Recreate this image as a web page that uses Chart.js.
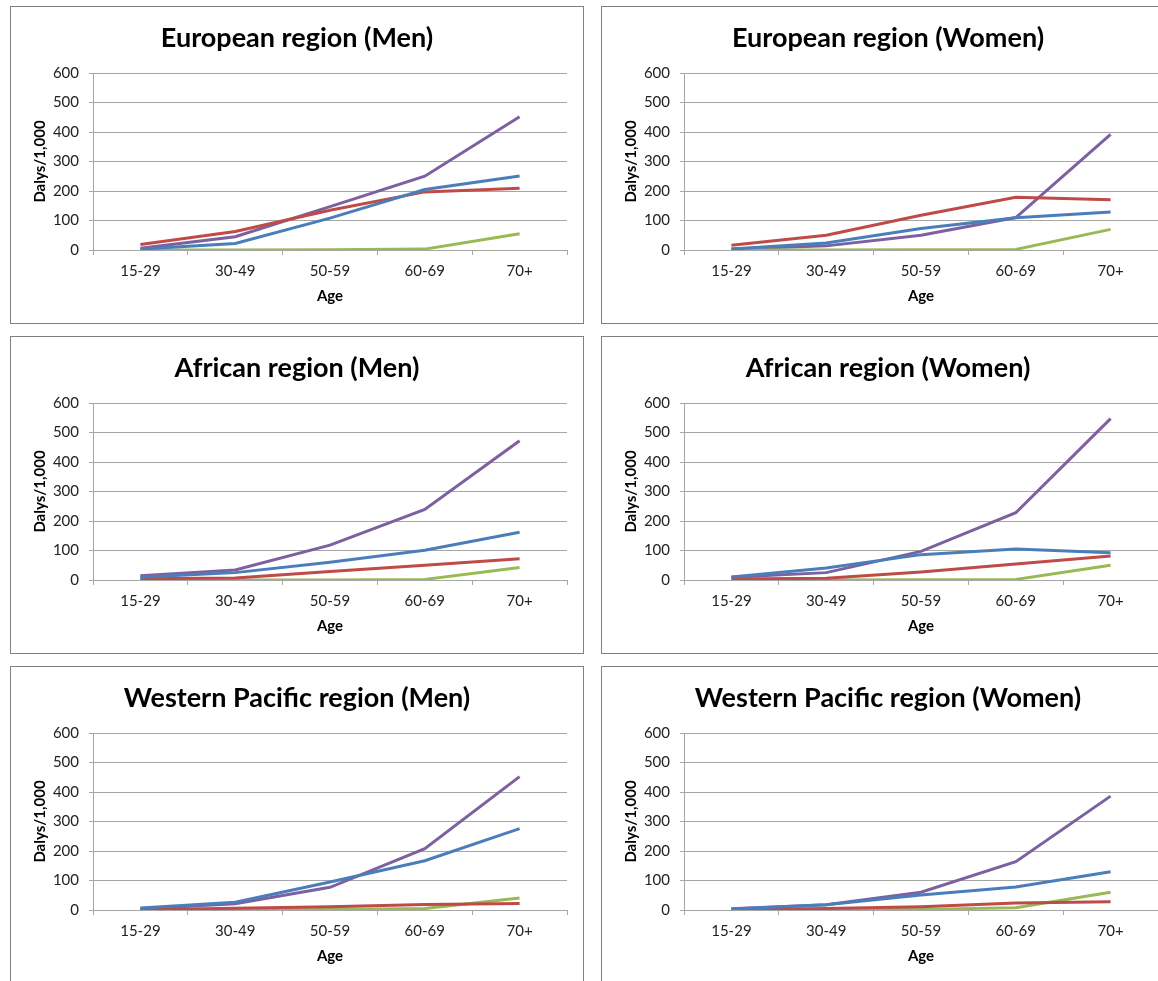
<!DOCTYPE html>
<html>
<head>
<meta charset="utf-8">
<script src="https://cdn.jsdelivr.net/npm/chart.js@4.4.1/dist/chart.umd.min.js"></script>
<style>
  html, body { margin: 0; padding: 0; background: #fff; width: 1158px; height: 981px; overflow: hidden; }
  .panel { position: absolute; width: 572px; height: 316px; border: 1px solid #808080; background: #fff; }
  .panel canvas { display: block; }
</style>
</head>
<body>
<div class="panel" style="left:10px; top:6px"><canvas id="c0" width="572" height="316"></canvas></div>
<div class="panel" style="left:601px; top:6px"><canvas id="c1" width="572" height="316"></canvas></div>
<div class="panel" style="left:10px; top:336px"><canvas id="c2" width="572" height="316"></canvas></div>
<div class="panel" style="left:601px; top:336px"><canvas id="c3" width="572" height="316"></canvas></div>
<div class="panel" style="left:10px; top:666px"><canvas id="c4" width="572" height="316"></canvas></div>
<div class="panel" style="left:601px; top:666px"><canvas id="c5" width="572" height="316"></canvas></div>
<script>
const ageGroups = ['15-29', '30-49', '50-59', '60-69', '70+'];
const yTicks = [0, 100, 200, 300, 400, 500, 600];

// values per panel, series order: blue, red, green, purple
const euMenBlue = [3, 22, 108, 205, 251];
const euMenRed = [19, 63, 135, 197, 209];
const euMenGreen = [0, 0, 1, 3, 55];
const euMenPurple = [6, 45, 147, 250, 452];

const euWomenBlue = [3, 24, 73, 109, 129];
const euWomenRed = [16, 50, 118, 179, 170];
const euWomenGreen = [0, 0, 1, 2, 70];
const euWomenPurple = [3, 14, 50, 110, 392];

const afMenBlue = [9, 25, 60, 101, 162];
const afMenRed = [4, 7, 29, 50, 72];
const afMenGreen = [0, 0, 0, 2, 42];
const afMenPurple = [14, 34, 118, 239, 472];

const afWomenBlue = [10, 41, 86, 105, 92];
const afWomenRed = [3, 6, 27, 54, 81];
const afWomenGreen = [0, 0, 1, 2, 50];
const afWomenPurple = [9, 25, 97, 228, 547];

const wpMenBlue = [7, 26, 95, 167, 276];
const wpMenRed = [1, 6, 11, 19, 22];
const wpMenGreen = [0, 1, 2, 5, 41];
const wpMenPurple = [4, 21, 77, 208, 452];

const wpWomenBlue = [3, 18, 51, 78, 130];
const wpWomenRed = [1, 5, 11, 24, 28];
const wpWomenGreen = [0, 1, 2, 8, 60];
const wpWomenPurple = [4, 18, 60, 164, 386];

const panels = [
  { id: 'c0', title: 'European region (Men)', series: [euMenBlue, euMenRed, euMenGreen, euMenPurple] },
  { id: 'c1', title: 'European region (Women)', series: [euWomenBlue, euWomenRed, euWomenGreen, euWomenPurple] },
  { id: 'c2', title: 'African region (Men)', series: [afMenBlue, afMenRed, afMenGreen, afMenPurple] },
  { id: 'c3', title: 'African region (Women)', series: [afWomenBlue, afWomenRed, afWomenGreen, afWomenPurple] },
  { id: 'c4', title: 'Western Pacific region (Men)', series: [wpMenBlue, wpMenRed, wpMenGreen, wpMenPurple] },
  { id: 'c5', title: 'Western Pacific region (Women)', series: [wpWomenBlue, wpWomenRed, wpWomenGreen, wpWomenPurple] }
];

const lineColors = ['#4A7EBB', '#BE4B48', '#98B954', '#7D60A0'];
const gridColor = '#a6a6a6';

panels.forEach(p => {
  const ctx = document.getElementById(p.id).getContext('2d');
  new Chart(ctx, {
    type: 'line',
    data: {
      labels: ageGroups,
      datasets: p.series.map((values, i) => ({
        label: 'Series ' + (i + 1),
        data: values,
        borderColor: lineColors[i],
        backgroundColor: lineColors[i],
        borderWidth: 3,
        pointRadius: 0,
        tension: 0,
        fill: false
      }))
    },
    options: {
      responsive: false,
      animation: false,
      // equal side padding keeps the title centred on the panel
      layout: { padding: { left: 16, right: 16, top: 0, bottom: 0 } },
      plugins: {
        legend: { display: false },
        tooltip: { enabled: false },
        title: {
          display: true,
          text: p.title,
          color: '#000',
          font: { family: 'Lato', size: 27, weight: 'bold' },
          padding: { top: 15, bottom: 18.6 }
        }
      },
      scales: {
        x: {
          offset: true,
          afterFit: s => { s.height = 73; },
          grid: { offset: true, drawOnChartArea: false, drawTicks: true, tickLength: 5, color: gridColor },
          border: { color: gridColor },
          ticks: { color: '#222', padding: 7, font: { family: 'Lato', size: 15 } },
          title: {
            display: true,
            text: 'Age',
            color: '#000',
            font: { family: 'Lato', size: 15, weight: 'bold' },
            padding: { top: 0, bottom: 18 }
          }
        },
        y: {
          min: 0,
          max: 600,
          afterFit: s => { s.width = 66; },
          afterBuildTicks: s => { s.ticks = yTicks.map(v => ({ value: v })); },
          grid: { color: gridColor, tickLength: 4 },
          border: { color: gridColor },
          ticks: { color: '#222', padding: 10, font: { family: 'Lato', size: 15 } },
          title: {
            display: true,
            text: 'Dalys/1,000',
            color: '#000',
            font: { family: 'Lato', size: 15, weight: 'bold' },
            padding: { top: 4, bottom: 0 }
          }
        }
      }
    }
  });
});
</script>
</body>
</html>
